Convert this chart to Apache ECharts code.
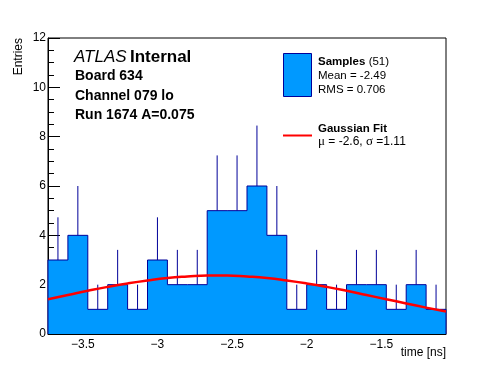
<!DOCTYPE html>
<html><head><meta charset="utf-8">
<script src="https://cdn.jsdelivr.net/npm/echarts@6/dist/echarts.min.js"></script>
<style>html,body{margin:0;padding:0;background:#fff}#c{width:496px;height:372px}</style>
</head><body><div id="c"></div>
<script>
// Histogram: 20 bins from -3.7333 to -1.0667 ns
const binStart = -3.7333;
const binWidth = 0.13333;
const counts = [3,4,1,2,1,3,2,2,5,5,6,4,1,2,1,2,2,1,2,1];
const errors = [1.73,2,1,1.41,1,1.73,1.41,1.41,2.24,2.24,2.45,2,1,1.41,1,1.41,1.41,1,1.41,1];
// Gaussian fit curve
const fitX = [-3.733,-3.6,-3.467,-3.333,-3.2,-3.067,-2.933,-2.8,-2.667,-2.533,-2.4,-2.267,-2.133,-2.0,-1.867,-1.733,-1.6,-1.467,-1.333,-1.2,-1.067];
const fitY = [1.41,1.58,1.75,1.91,2.05,2.17,2.27,2.33,2.37,2.37,2.33,2.27,2.17,2.05,1.91,1.75,1.58,1.41,1.24,1.07,0.91];
const yTicks = [0,2,4,6,8,10,12];
const xTicks = [-3.5,-3,-2.5,-2,-1.5];

const FONT = 'Liberation Sans, Arial, sans-serif';
const BLUE = '#0099ff', NAVY = '#000099';

const xMin = binStart, xMax = binStart + binWidth * counts.length;
const stepData = [[binStart, 0]];
counts.forEach((c, i) => stepData.push([binStart + i * binWidth, c]));
stepData.push([xMax, counts[counts.length - 1]]);
stepData.push([xMax, 0]);
const errData = counts.map((c, i) => [binStart + (i + 0.5) * binWidth, c, c + errors[i]]);
const fitData = fitX.map((x, i) => [x, fitY[i]]);

const chart = echarts.init(document.getElementById('c'), null, {renderer: 'canvas'});
chart.setOption({
  animation: false,
  grid: {left: 48, right: 50, top: 38, bottom: 38, show: true, borderColor: '#000', borderWidth: 1, backgroundColor: 'transparent'},
  xAxis: {
    type: 'value', min: xMin, max: xMax, interval: 0.5,
    axisLine: {show: true, onZero: false, lineStyle: {color: '#000', width: 1}},
    axisTick: {show: true, inside: true, length: 9, lineStyle: {color: '#000'},
      customValues: xTicks},
    minorTick: {show: true, splitNumber: 5, length: 4.5, lineStyle: {color: '#000'}},
    splitLine: {show: false},
    axisLabel: {color: '#000', fontFamily: FONT, fontSize: 12, margin: 5,
      customValues: xTicks,
      formatter: v => String(v).replace('-', '\u2212')}
  },
  yAxis: {
    type: 'value', min: 0, max: 12, interval: 2,
    axisLine: {show: true, lineStyle: {color: '#000', width: 1}},
    axisTick: {show: true, inside: true, length: 12, lineStyle: {color: '#000'}},
    minorTick: {show: true, splitNumber: 4, length: 6, lineStyle: {color: '#000'}},
    splitLine: {show: false},
    axisLabel: {color: '#000', fontFamily: FONT, fontSize: 12, margin: 2,
      customValues: yTicks}
  },
  series: [
    {
      type: 'custom', z: 1,
      data: errData,
      renderItem: (params, api) => {
        const p1 = api.coord([api.value(0), api.value(1)]);
        const p2 = api.coord([api.value(0), api.value(2)]);
        return {type: 'line', shape: {x1: p1[0], y1: p1[1], x2: p2[0], y2: p2[1]},
          style: {stroke: NAVY, lineWidth: 1}};
      },
      silent: true
    },
    {
      type: 'line', z: 2, step: 'end', symbol: 'none',
      data: stepData,
      lineStyle: {color: NAVY, width: 1},
      areaStyle: {color: BLUE, opacity: 1, origin: 0},
      silent: true
    },
    {
      type: 'line', z: 4, smooth: true, symbol: 'none',
      data: fitData,
      lineStyle: {color: '#ff0000', width: 2.5},
      silent: true
    }
  ],
  graphic: [
    {type: 'text', x: 19, y: 38, rotation: Math.PI / 2, style: {text: 'Entries', fill: '#000', font: '12px ' + FONT, align: 'right', verticalAlign: 'middle'}},
    {type: 'text', x: 446, y: 353, style: {text: 'time [ns]', fill: '#000', font: '12px ' + FONT, align: 'right', verticalAlign: 'middle'}},
    {type: 'text', x: 74, y: 57, style: {
      text: '{i|ATLAS} {b|Internal}', verticalAlign: 'middle',
      rich: {i: {fontFamily: FONT, fontSize: 17, fontStyle: 'italic', fill: '#000'},
             b: {fontFamily: FONT, fontSize: 17, fontWeight: 'bold', fill: '#000'}}}},
    {type: 'text', x: 75, y: 76, style: {text: 'Board 634', fill: '#000', font: 'bold 14px ' + FONT, verticalAlign: 'middle'}},
    {type: 'text', x: 75, y: 96, style: {text: 'Channel 079 lo', fill: '#000', font: 'bold 14px ' + FONT, verticalAlign: 'middle'}},
    {type: 'text', x: 75, y: 115, style: {text: 'Run 1674 A=0.075', fill: '#000', font: 'bold 14px ' + FONT, verticalAlign: 'middle'}},
    {type: 'rect', shape: {x: 283.5, y: 53.5, width: 28, height: 43}, style: {fill: BLUE, stroke: NAVY, lineWidth: 1}},
    {type: 'text', x: 318, y: 62, style: {
      text: '{b|Samples} {n|(51)}', verticalAlign: 'middle',
      rich: {b: {fontFamily: FONT, fontSize: 11.5, fontWeight: 'bold', fill: '#000'},
             n: {fontFamily: FONT, fontSize: 11.5, fill: '#000'}}}},
    {type: 'text', x: 318, y: 76, style: {text: 'Mean = -2.49', fill: '#000', font: '11.5px ' + FONT, verticalAlign: 'middle'}},
    {type: 'text', x: 318, y: 90, style: {text: 'RMS = 0.706', fill: '#000', font: '11.5px ' + FONT, verticalAlign: 'middle'}},
    {type: 'line', shape: {x1: 283, y1: 135.5, x2: 312, y2: 135.5}, style: {stroke: '#ff0000', lineWidth: 2}},
    {type: 'text', x: 318, y: 129, style: {text: 'Gaussian Fit', fill: '#000', font: 'bold 11.5px ' + FONT, verticalAlign: 'middle'}},
    {type: 'text', x: 318, y: 142, style: {
      text: '{g|\u03bc} = -2.6, {g|\u03c3} =1.11', verticalAlign: 'middle',
      rich: {g: {fontFamily: 'Liberation Serif, serif', fontSize: 13, fill: '#000'}},
      fill: '#000', font: '12px ' + FONT}}
  ]
});
</script>
</body></html>
